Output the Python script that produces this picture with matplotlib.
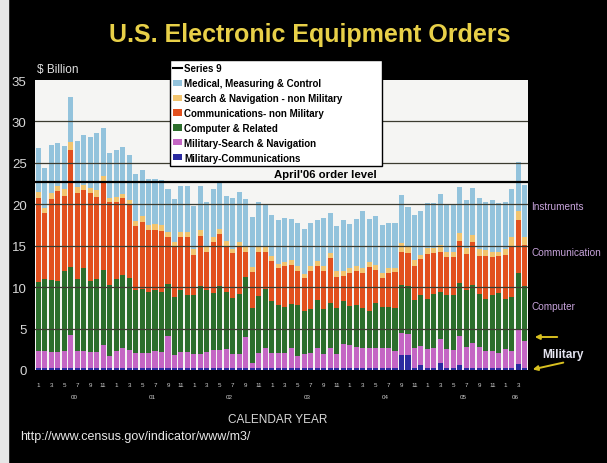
import matplotlib.pyplot as plt
import numpy as np
from matplotlib.lines import Line2D
from matplotlib.patches import Patch, Rectangle, FancyArrowPatch
from matplotlib.transforms import blended_transform_factory

plt.rcParams["font.family"] = ["Liberation Sans", "DejaVu Sans"]

# monthly orders, Jan 2000 .. Apr 2006, $ billion
years = ["00", "01", "02", "03", "04", "05", "06"]
months = [m for y in years for m in range(1, 13)][:76]

medical = [5.3, 4.9, 5.7, 5.2, 5.2, 5.5, 5.5, 6.1, 6.1, 6.9, 5.8, 5.4,
           5.6, 5.7, 5.4, 5.7, 5.5, 5.5, 5.4, 5.4, 5.1, 5.2, 5.6, 5.5,
           5.2, 5.3, 5.4, 5.7, 5.7, 5.4, 6.2, 6.1, 5.8, 6.1, 5.5, 5.2,
           4.9, 5.3, 5.4, 4.9, 5.2, 5.4, 5.2, 5.0, 5.8, 4.9, 5.5, 6.2,
           5.3, 5.7, 6.9, 5.2, 5.9, 5.8, 5.4, 5.4, 5.8, 4.8, 5.4, 5.3,
           5.4, 5.5, 6.1, 5.6, 5.6, 5.6, 5.8, 5.7, 6.2, 5.8, 6.2, 5.8,
           5.7, 5.8, 5.9, 6.2]
search_nav = [0.7, 0.6, 0.8, 0.6, 0.8, 0.9, 0.7, 0.6, 0.6, 0.8, 0.7, 0.5,
              0.6, 0.5, 0.6, 0.6, 0.7, 0.6, 0.7, 0.7, 0.6, 0.5, 0.5, 0.6,
              0.7, 0.7, 0.6, 0.7, 0.6, 0.6, 0.5, 0.6, 0.5, 0.6, 0.5, 0.5,
              0.6, 0.5, 0.5, 0.6, 0.6, 0.5, 0.6, 0.6, 0.6, 0.6, 0.7, 0.6,
              0.6, 0.5, 0.6, 0.6, 0.6, 0.6, 0.6, 0.5, 1.0, 0.8, 0.7, 0.5,
              0.7, 0.6, 0.8, 0.7, 0.7, 0.9, 0.7, 0.9, 0.9, 0.8, 0.7, 0.6,
              0.7, 1.2, 1.1, 1.0]
communications = [10.2, 7.9, 9.7, 10.8, 9.0, 14.2, 10.4, 9.4, 10.7, 9.9, 10.6, 10.1,
                  9.3, 9.2, 8.8, 7.7, 8.1, 7.5, 7.3, 7.4, 5.7, 6.1, 6.5, 7.0,
                  4.8, 6.1, 4.7, 6.1, 6.3, 5.6, 5.4, 5.6, 3.1, 4.3, 5.4, 4.5,
                  4.9, 4.4, 4.9, 4.7, 4.1, 4.0, 4.5, 4.0, 4.5, 5.4, 3.7, 3.0,
                  4.0, 4.2, 4.2, 5.3, 4.0, 3.5, 4.1, 4.3, 4.0, 4.0, 4.1, 4.4,
                  5.4, 4.9, 4.9, 4.6, 4.6, 5.1, 4.3, 5.2, 4.5, 5.1, 4.6, 4.4,
                  5.3, 6.1, 6.4, 5.0]
computer = [8.3, 8.7, 8.7, 8.6, 9.7, 8.2, 8.7, 10.0, 8.5, 8.8, 9.1, 8.5,
            8.7, 8.9, 8.7, 7.7, 7.8, 7.3, 7.3, 7.2, 6.3, 7.0, 7.4, 6.9,
            7.2, 8.2, 7.4, 6.9, 7.7, 6.9, 6.8, 7.3, 7.2, 6.7, 6.8, 7.1,
            6.3, 5.9, 5.6, 5.3, 6.2, 5.2, 5.3, 5.8, 5.5, 5.5, 5.6, 5.2,
            4.7, 5.0, 4.8, 4.5, 5.5, 4.9, 4.9, 5.2, 5.8, 5.7, 5.8, 6.1,
            6.1, 6.5, 5.6, 6.5, 6.6, 6.4, 6.9, 7.0, 6.4, 6.3, 6.7, 7.2,
            6.1, 6.5, 6.8, 6.6]
mil_search_nav = [2.0, 2.0, 1.9, 1.9, 2.0, 3.9, 2.0, 2.0, 1.9, 1.9, 2.7, 1.4,
                  2.0, 2.3, 2.1, 1.7, 1.7, 1.8, 2.0, 1.9, 3.8, 1.5, 1.9, 1.9,
                  1.6, 1.6, 1.9, 2.1, 2.1, 2.2, 1.6, 1.6, 3.7, 0.5, 1.8, 2.4,
                  1.7, 1.7, 1.7, 2.4, 1.4, 1.6, 1.8, 2.4, 1.6, 2.3, 1.6, 2.8,
                  2.7, 2.5, 2.4, 2.3, 2.3, 2.4, 2.4, 2.0, 2.7, 2.6, 2.4, 2.3,
                  2.2, 2.4, 3.0, 2.2, 2.1, 3.5, 2.5, 2.9, 2.5, 2.0, 2.0, 1.8,
                  2.2, 2.0, 4.2, 3.2]
mil_comm = [0.3, 0.3, 0.3, 0.3, 0.3, 0.3, 0.3, 0.3, 0.3, 0.3, 0.3, 0.3,
            0.3, 0.3, 0.3, 0.3, 0.3, 0.3, 0.3, 0.3, 0.3, 0.3, 0.3, 0.3,
            0.3, 0.3, 0.3, 0.3, 0.3, 0.3, 0.3, 0.3, 0.3, 0.3, 0.3, 0.3,
            0.3, 0.3, 0.3, 0.3, 0.3, 0.3, 0.3, 0.3, 0.3, 0.3, 0.3, 0.3,
            0.3, 0.3, 0.3, 0.3, 0.3, 0.3, 0.3, 0.3, 1.8, 1.8, 0.3, 0.6,
            0.3, 0.3, 0.8, 0.3, 0.3, 0.6, 0.3, 0.3, 0.3, 0.3, 0.3, 0.3,
            0.3, 0.3, 0.7, 0.3]
april06_level = 22.7

series = [
    (mil_comm, "#2a2aa0", "Military-Communications"),
    (mil_search_nav, "#c466c4", "Military-Search & Navigation"),
    (computer, "#2c6e2c", "Computer & Related"),
    (communications, "#e2501e", "Communications- non Military"),
    (search_nav, "#f2c46e", "Search & Navigation - non Military"),
    (medical, "#93c3dc", "Medical, Measuring & Control"),
]

W, H = 607, 464
fig = plt.figure(figsize=(W / 100, H / 100), dpi=100, facecolor="black")
fig.patches.append(Rectangle((0, 0), 8 / W, 1, transform=fig.transFigure,
                             color="#e6e6e6", zorder=0))

ax = fig.add_axes([35 / W, 93 / H, 493 / W, 290 / H])
ax.set_facecolor("#f5f5f3")

x = np.arange(len(medical))
bottom = np.zeros(len(x))
for values, color, label in series:
    ax.bar(x, values, width=0.78, bottom=bottom, color=color, zorder=2)
    bottom += np.array(values)

for y in range(5, 35, 5):
    ax.axhline(y, color="#3c3c30", lw=0.9, zorder=3)
ax.axhline(april06_level, color="black", lw=1.6, zorder=4)
ax.text(44.2, april06_level + 0.4, "April'06 order level", fontsize=8.2,
        fontweight="bold", ha="center", va="bottom", zorder=5)

ax.set_xlim(-0.5, len(x) - 0.5)
ax.set_ylim(0, 35)
ax.set_yticks(range(0, 36, 5))
for s in ax.spines.values():
    s.set_visible(False)
ax.tick_params(axis="y", colors="#d8d8d8", length=0, labelsize=9.5, pad=6)

odd = [i for i, m in enumerate(months) if m % 2 == 1]
ax.set_xticks(odd)
ax.set_xticklabels([str(months[i]) for i in odd])
ax.tick_params(axis="x", colors="#d0d0d0", length=0, labelsize=4.5, pad=9)

trans = blended_transform_factory(ax.transData, fig.transFigure)
for k, yr in enumerate(years):
    idx = [i for i in range(len(x)) if i // 12 == k]
    ax.text(np.mean(idx), 1 - 398 / H, yr, transform=trans, fontsize=4.5,
            color="#d0d0d0", ha="center", va="center")

handles = [Line2D([], [], color="black", lw=1.5, label="Series 9")]
for values, color, label in reversed(series):
    handles.append(Patch(facecolor=color, label=label))
fig.legend(handles=handles, loc="upper left",
           bbox_to_anchor=(170 / W, 1 - 165 / H, 212 / W, 104 / H),
           mode="expand", frameon=True, fancybox=False, edgecolor="black",
           facecolor="white", framealpha=1, prop=dict(weight="bold", size=7),
           handlelength=0.9, handleheight=0.6, handletextpad=0.2,
           labelspacing=0.5, borderpad=0.35, borderaxespad=0)

fig.text(310 / W, 1 - 35 / H, "U.S. Electronic Equipment Orders", fontsize=18,
         fontweight="bold", color="#e8d048", ha="center", va="center")
fig.text(37 / W, 1 - 70 / H, "$ Billion", fontsize=8.5, color="#e0e0e0",
         ha="left", va="center")
fig.text(278 / W, 1 - 420 / H, "CALENDAR YEAR", fontsize=8.5, color="#d8d8d8",
         ha="center", va="center")
fig.text(20 / W, 1 - 437 / H, "http://www.census.gov/indicator/www/m3/",
         fontsize=9, color="#e8e8e8", ha="left", va="center")

side = "#c8a4dc"
fig.text(531 / W, 1 - 207 / H, "Instruments", fontsize=7.2, color=side, va="center")
fig.text(532 / W, 1 - 253 / H, "Communication", fontsize=7.2, color=side, va="center")
fig.text(531 / W, 1 - 307 / H, "Computer", fontsize=7.2, color=side, va="center")
fig.text(542 / W, 1 - 355 / H, "Military", fontsize=8.5, color="#e4e4f0",
         va="center", fontweight="bold")
for (x0, y0), (x1, y1) in [((560, 338), (532, 338)), ((566, 363), (530, 371))]:
    fig.patches.append(FancyArrowPatch((x0 / W, 1 - y0 / H), (x1 / W, 1 - y1 / H),
                                       transform=fig.transFigure, color="#d8c020",
                                       arrowstyle="-|>", mutation_scale=7, lw=1.4))

fig.savefig("out.png", dpi=100, facecolor="black")
